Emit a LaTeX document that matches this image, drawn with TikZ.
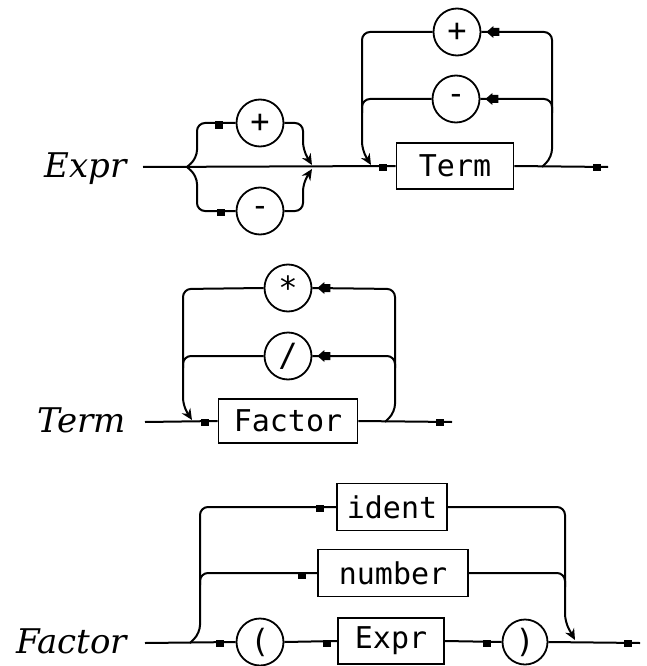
\documentclass[tikz,border=0pt]{standalone}
\usepackage{fontspec}
\setmainfont{DejaVu Serif}
\newfontfamily\monof{DejaVu Sans Mono}
\usetikzlibrary{arrows.meta}
\tikzset{
  rc/.style={rounded corners=8pt},
  term/.style={draw, line width=1.8pt, circle, minimum size=47pt, inner sep=0pt, font=\monof\fontsize{32}{36}\selectfont},
  nterm/.style={draw, line width=1.8pt, rectangle, inner sep=0pt, font=\monof\fontsize{30}{34}\selectfont},
  lbl/.style={anchor=base east, inner sep=0pt, font=\itshape\fontsize{34}{40}\selectfont},
  sq/.style={fill, rectangle, minimum width=8pt, minimum height=7pt, inner sep=0pt},
  darr/.style={-{Stealth[length=11pt,width=10pt]}},
  tipfill/.style={fill, line width=0pt},
}
\newcommand{\loopTip}[1]{\fill[tipfill] ([xshift=5pt]#1.east) -- ++(7,-6) -- ++(0,2) -- ++(6,0) -- ++(0,8) -- ++(-6,0) -- ++(0,2) -- cycle;}
\begin{document}
\begin{tikzpicture}[x=1pt,y=-1pt,line width=2pt]
\useasboundingbox (0,0) rectangle (646,666);

% ---------------- Expr ----------------
\node[lbl] (lexpr) at (128,177) {Expr};
\coordinate (e0) at (143,167);
\coordinate (eb) at (187,167);
\node[term] (eplus) at (260,123) {+};
\node[term] (eminus) at (260,211) {-};
\node[nterm, minimum width=117pt, minimum height=46pt] (eterm) at (455,166) {Term};
\node[term] (tplus) at (457,32) {+};
\node[term] (tminus) at (456,99) {-};
\coordinate (eend) at (608,167);

\draw (e0) -- (eterm.west);
\node[sq] (d1) at (383,167) {};
% sign option
\draw[rc] (eb) -- (197,158) |- (eplus.west);
\node[sq] (d2) at (219,125) {};
\draw[rc,darr] (eplus.east) -| (303,150) -- (312,165);
\draw[rc] (eb) -- (197,176) |- (eminus.west);
\node[sq] (d3) at (221,212) {};
\draw[rc,darr] (eminus.east) -| (303,183) -- (312,169);
% loop
\draw (eterm.east) -- (eend);
\node[sq] (d4) at (597,167) {};
\draw[rc] (542,167) -- (552,157) -- (552,32) -- (tplus.east);
\loopTip{tplus}
\draw[rc] (552,113) -- (552,99) -- (tminus.east);
\loopTip{tminus}
\draw[rc,darr] (tplus.west) -- (362,32) -- (362,150) -- (371,165);
\draw[rc] (tminus.west) -- (362,99) -- (362,113);

% ---------------- Term ----------------
\node[lbl] (lterm) at (127,432) {Term};
\coordinate (t0) at (145,422);
\node[nterm, minimum width=139pt, minimum height=44pt] (factor) at (288,421) {Factor};
\node[term] (mul) at (288,288) {*};
\node[term] (dv) at (288,356) {/};
\coordinate (tend) at (452,422);
\draw (t0) -- (factor.west);
\node[sq] (d5) at (205,422) {};
\draw (factor.east) -- (tend);
\node[sq] (d6) at (440,422) {};
\draw[rc] (385,422) -- (395,412) -- (395,289) -- (mul.east);
\loopTip{mul}
\draw[rc] (395,368) -- (395,356) -- (dv.east);
\loopTip{dv}
\draw[rc,darr] (mul.west) -- (183,289) -- (183,406) -- (192,420);
\draw[rc] (dv.west) -- (183,356) -- (183,368);

% ---------------- Factor ----------------
\node[lbl] (lfactor) at (128,653) {Factor};
\coordinate (f0) at (145,643);
\coordinate (fb) at (190,643);
\node[term] (lp) at (260,642) {(};
\node[nterm, minimum width=106pt, minimum height=46pt] (fexpr) at (391,641) {Expr};
\node[term, minimum size=45pt] (rp) at (525,642) {)};
\node[nterm, minimum width=110pt, minimum height=47pt] (ident) at (392,507) {ident};
\node[nterm, minimum width=150pt, minimum height=47pt] (number) at (393,573) {number};
\coordinate (fend) at (640,643);

\draw (f0) -- (lp.west);
\node[sq] (d7) at (220,643) {};
\draw (lp.east) -- (fexpr.west);
\node[sq] (d8) at (327,643) {};
\draw (fexpr.east) -- (rp.west);
\node[sq] (d9) at (487,643) {};
\draw (rp.east) -- (fend);
\node[sq] (d10) at (628,643) {};
\draw[rc] (fb) -- (200,633) |- (ident.west);
\node[sq] (d11) at (320,508) {};
\draw[rc] (200,585) |- (number.west);
\node[sq] (d12) at (302,575) {};
\draw[rc,darr] (ident.east) -| (565,622) -- (575,640);
\draw[rc] (number.east) -| (565,587);
\end{tikzpicture}
\end{document}
